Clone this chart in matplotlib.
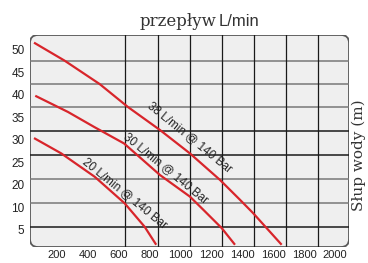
import matplotlib
matplotlib.use("Agg")
import matplotlib.pyplot as plt
from matplotlib.patches import FancyBboxPatch

# flow (L/min) and head (m)
flow_38 = [52, 250, 477, 660, 867, 1061, 1256, 1385, 1471, 1655]
head_38 = [51.6, 47.6, 42.4, 37.3, 32.2, 27.0, 21.1, 16.7, 13.7, 6.7]
flow_30 = [60, 272, 445, 635, 867, 1061, 1150, 1267, 1353]
head_30 = [39.8, 36.2, 32.8, 29.2, 22.2, 17.4, 14.4, 10.4, 6.7]
flow_20 = [52, 228, 445, 639, 768, 843]
head_20 = [30.4, 27.0, 21.8, 15.9, 10.7, 6.7]

labels = ["38 L/min @ 140 Bar", "30 L/min @ 140 Bar", "20 L/min @ 140 Bar"]
label_at = [(1061, 30.6), (906, 23.8), (641, 18.2)]

x_ticks = [200, 400, 600, 800, 1000, 1200, 1400, 1600, 1800, 2000]
y_ticks = [50, 45, 40, 35, 30, 25, 20, 15, 10]
y_tick_labels = ["50", "45", "40", "35", "30", "25", "20", "10", "5"]

grid_x = [641, 854, 1061, 1269, 1476, 1683, 1890]
grid_y = [47.6, 42.4, 37.3, 32.0, 26.7, 21.3, 16.0, 10.7]
grid_y_dark = [False, False, False, True, True, False, False, True]

fig = plt.figure(figsize=(3.68, 2.63), dpi=100)
ax = fig.add_axes([30 / 368, 1 - 247 / 263, 319 / 368, 212 / 263])
ax.set_xlim(26, 2091)
ax.set_ylim(6.2, 53.3)
for s in ax.spines.values():
    s.set_visible(False)
ax.patch.set_visible(False)

box = FancyBboxPatch((0, 0), 1, 1, boxstyle="round,pad=0,rounding_size=0.025",
                     transform=ax.transAxes, facecolor="#efefef",
                     edgecolor="#585858", linewidth=1.3, zorder=0,
                     mutation_aspect=319 / 212)
ax.add_patch(box)

for g, dark in zip(grid_y, grid_y_dark):
    ax.axhline(g, color="#1a1a1a" if dark else "#787878", lw=1.1, zorder=1)
for g in grid_x:
    ax.axvline(g, color="#1a1a1a", lw=0.9, zorder=1)

red = "#d8252b"
for fx, hy in [(flow_38, head_38), (flow_30, head_30), (flow_20, head_20)]:
    ax.plot(fx, hy, color=red, lw=1.6, zorder=3, solid_capstyle="butt",
            solid_joinstyle="round")

for txt, (lx, ly) in zip(labels, label_at):
    ax.text(lx, ly, txt, rotation=-39, ha="center", va="center",
            fontsize=8.5, family="Liberation Sans", color="#222222", zorder=4,
            rotation_mode="anchor")

ax.set_xticks(x_ticks)
ax.set_xticklabels([str(v) for v in x_ticks], fontsize=8, family="Liberation Sans", color="#222222")
ax.set_yticks(y_ticks)
ax.set_yticklabels(y_tick_labels, fontsize=8.5, family="Liberation Sans", color="#222222")
ax.tick_params(axis="y", length=0, pad=4)
ax.tick_params(axis="x", length=0, pad=2.5)

fig.text(216 / 368, 1 - 26 / 263, "przepływ", ha="right", va="baseline",
         fontsize=12, family="DejaVu Serif", color="#333333")
fig.text(219 / 368, 1 - 26 / 263, "L/min", ha="left", va="baseline",
         fontsize=12, family="Liberation Sans", color="#333333")
fig.text(359 / 368, 1 - 155 / 263, "Słup wody (m)", rotation=90, ha="center", va="center",
         fontsize=11, family="DejaVu Serif", color="#333333")

fig.savefig("out.png", dpi=100)
